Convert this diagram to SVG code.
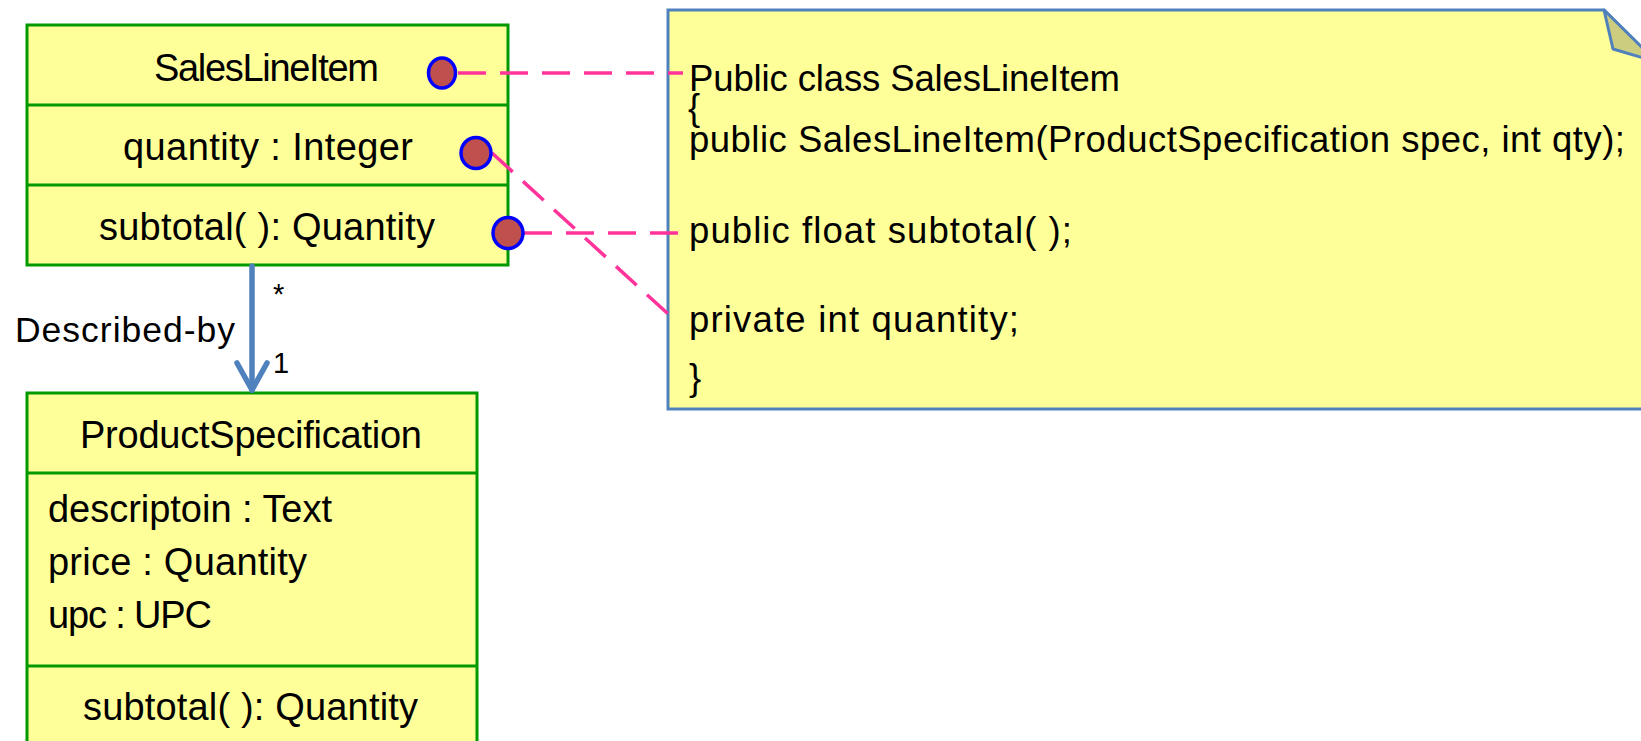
<svg xmlns="http://www.w3.org/2000/svg" width="1641" height="741" viewBox="0 0 1641 741">
<style>
text { font-family: "Liberation Sans", Arial, sans-serif; fill: #000; }
.box { fill: #FFFF99; stroke: #009900; stroke-width: 3; }
.div { stroke: #009900; stroke-width: 3; }
.bt { font-size: 38px; }
.nt { font-size: 36.5px; }
.port { fill: #C0504D; stroke: #0000FF; stroke-width: 3.5; }
.dash { stroke: #FF3399; stroke-width: 3.5; stroke-dasharray: 28 14; fill: none; }
.assoc { stroke: #4F81BD; stroke-width: 5.5; fill: none; stroke-linecap: round; stroke-linejoin: round; }
</style>
<g id="note">
  <path d="M668,10 L1604,10 L1660,66 L1660,409 L668,409 Z" fill="#FFFF99" stroke="#4F81BD" stroke-width="3"/>
  <path d="M1604,10 L1613,49 L1657,62 Z" fill="#CDCD80" stroke="#4F81BD" stroke-width="3" stroke-linejoin="round"/>
  <text class="nt" x="689" y="91" textLength="431">Public class SalesLineItem</text>
  <text class="nt" x="688" y="120">{</text>
  <text class="nt" x="689" y="152" textLength="936">public SalesLineItem(ProductSpecification spec, int qty);</text>
  <text class="nt" x="689" y="243" textLength="383">public float subtotal( );</text>
  <text class="nt" x="689" y="332" textLength="330">private int quantity;</text>
  <text class="nt" x="689" y="390">}</text>
</g>
<g id="SalesLineItem">
  <rect class="box" x="27" y="25" width="481" height="240"/>
  <line class="div" x1="27" y1="105" x2="508" y2="105"/>
  <line class="div" x1="27" y1="185" x2="508" y2="185"/>
  <text class="bt" x="154" y="81" textLength="225">SalesLineItem</text>
  <text class="bt" x="123" y="160" textLength="290">quantity : Integer</text>
  <text class="bt" x="99" y="240" textLength="336">subtotal( ): Quantity</text>
</g>
<g id="ProductSpecification">
  <rect class="box" x="27" y="393" width="450" height="370"/>
  <line class="div" x1="27" y1="473" x2="477" y2="473"/>
  <line class="div" x1="27" y1="666" x2="477" y2="666"/>
  <text class="bt" x="80" y="448" textLength="342">ProductSpecification</text>
  <text class="bt" x="48" y="522" textLength="284">descriptoin : Text</text>
  <text class="bt" x="48" y="575" textLength="259">price : Quantity</text>
  <text class="bt" x="48" y="628" textLength="164">upc : UPC</text>
  <text class="bt" x="83" y="720" textLength="335">subtotal( ): Quantity</text>
</g>
<g id="connectors">
  <line class="dash" x1="458" y1="73" x2="683" y2="73"/>
  <line class="dash" x1="492" y1="153" x2="678" y2="323"/>
  <line class="dash" x1="524" y1="233" x2="683" y2="233"/>
  <line class="assoc" x1="252" y1="266" x2="252" y2="390"/>
  <polyline class="assoc" points="237,363 252,390 267,363"/>
  <text x="15" y="342" font-size="35.5" textLength="220">Described-by</text>
  <text x="273" y="304" font-size="29">*</text>
  <text x="273" y="373" font-size="29">1</text>
</g>
<g id="ports">
  <ellipse class="port" cx="442" cy="73" rx="13.5" ry="15"/>
  <ellipse class="port" cx="476" cy="153" rx="15" ry="15.5"/>
  <ellipse class="port" cx="508" cy="233" rx="15" ry="15.5"/>
</g>
</svg>
